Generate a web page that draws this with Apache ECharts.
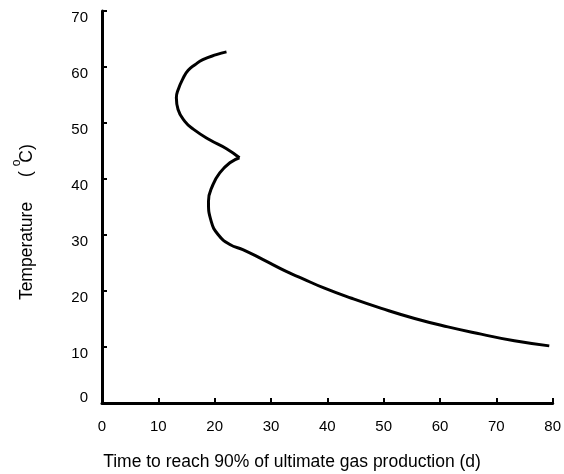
<!DOCTYPE html>
<html>
<head>
<meta charset="utf-8">
<script src="https://cdn.jsdelivr.net/npm/echarts@6/dist/echarts.min.js"></script>
<style>
html,body{margin:0;padding:0;background:#fff;}
#c{width:564px;height:474px;}
</style>
</head>
<body>
<div id="c"></div>
<script>
// Upper branch: from the top end down to the cusp at ~44 °C
var upperTime = [22.1, 20.3, 17.9, 16.5, 15.3, 14.4, 13.5, 13.2, 13.5, 14.7, 16.2, 19.1, 22.1, 24.4];
var upperTemp = [62.7, 62.2, 61.3, 60.4, 59.4, 58.0, 55.9, 54.5, 52.4, 50.3, 48.9, 47.0, 45.4, 43.8];
// Lower branch: from the cusp down to 10 °C
var lowerTime = [24.4, 22.7, 20.9, 19.7, 18.9, 19.4, 20.6, 22.7, 25.0, 28.6, 32.7, 35.4, 39.5, 44.3, 49.6, 55.5, 61.4, 67.3, 73.2, 79.4];
var lowerTemp = [43.8, 42.9, 41.1, 39.0, 36.0, 32.4, 30.1, 28.3, 27.4, 25.6, 23.5, 22.3, 20.5, 18.7, 16.9, 15.1, 13.6, 12.3, 11.1, 10.2];
var xTicks = [0, 10, 20, 30, 40, 50, 60, 70, 80];
var yTicks = [0, 10, 20, 30, 40, 50, 60, 70];
var xTitle = 'Time to reach 90% of ultimate gas production (d)';
var yTitle = 'Temperature';

function pairs(xs, ys) { return xs.map(function (x, i) { return [x, ys[i]]; }); }

var FONT = '"Liberation Sans", Arial, sans-serif';
var chart = echarts.init(document.getElementById('c'), null, {renderer: 'canvas'});
chart.setOption({
  animation: false,
  backgroundColor: '#fff',
  grid: {left: 102, right: 10, top: 11, bottom: 71, containLabel: false},
  xAxis: {
    type: 'value', min: xTicks[0], max: xTicks[xTicks.length - 1], interval: 10,
    splitLine: {show: false},
    axisLine: {show: true, lineStyle: {color: '#000', width: 3}},
    axisTick: {show: true, inside: true, length: 5, lineStyle: {color: '#000', width: 2}},
    axisLabel: {color: '#000', fontSize: 15, fontFamily: FONT, margin: 16}
  },
  yAxis: {
    type: 'value', min: yTicks[0], max: yTicks[yTicks.length - 1], interval: 10,
    splitLine: {show: false},
    axisLine: {show: true, lineStyle: {color: '#000', width: 3}},
    axisTick: {show: true, inside: true, length: 5, lineStyle: {color: '#000', width: 2}},
    axisLabel: {
      color: '#000', fontSize: 15, fontFamily: FONT, margin: 14,
      formatter: function (v) { return v === 0 ? '{z|0}' : '{n|' + v + '}'; },
      rich: {
        z: {fontSize: 15, fontFamily: FONT, color: '#000', padding: [0, 0, 10, 0]},
        n: {fontSize: 15, fontFamily: FONT, color: '#000', padding: [14, 0, 0, 0]}
      }
    }
  },
  series: [
    {type: 'line', data: pairs(upperTime, upperTemp), smooth: 0.5, showSymbol: false,
     lineStyle: {color: '#000', width: 3}},
    {type: 'line', data: pairs(lowerTime, lowerTemp), smooth: 0.5, showSymbol: false,
     lineStyle: {color: '#000', width: 3}}
  ],
  graphic: [
    {type: 'text', x: 292, y: 462, style: {text: xTitle, fill: '#000', font: '17.5px ' + FONT, align: 'center', verticalAlign: 'middle'}},
    {type: 'text', x: 27, y: 251, rotation: Math.PI / 2, style: {text: yTitle, fill: '#000', font: '17.5px ' + FONT, align: 'center', verticalAlign: 'middle'}},
    {type: 'text', x: 26, y: 174, rotation: Math.PI / 2, style: {text: '(', fill: '#000', font: '17.5px ' + FONT, align: 'center', verticalAlign: 'middle'}},
    {type: 'text', x: 17, y: 163, rotation: Math.PI / 2, style: {text: 'o', fill: '#000', font: '12px ' + FONT, align: 'center', verticalAlign: 'middle'}},
    {type: 'text', x: 27, y: 153.5, rotation: Math.PI / 2, style: {text: 'C)', fill: '#000', font: '17.5px ' + FONT, align: 'center', verticalAlign: 'middle'}}
  ]
});
</script>
</body>
</html>
